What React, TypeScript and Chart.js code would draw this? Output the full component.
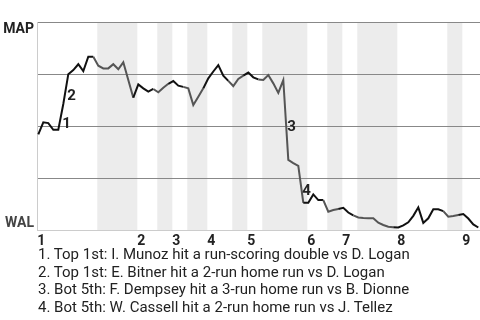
import React, { useEffect, useRef } from "react";
import { Chart, registerables } from "chart.js";

Chart.register(...registerables);

// Win probability for MAP (1 = MAP wins, 0 = WAL wins), one value per play
const winProb: number[] = [
  0.46, 0.518, 0.514, 0.482, 0.482, 0.606, 0.749, 0.769, 0.797, 0.764,
  0.833, 0.833, 0.79, 0.777, 0.777, 0.797, 0.773, 0.806, 0.721, 0.636,
  0.7, 0.681, 0.665, 0.678, 0.662, 0.684, 0.703, 0.716, 0.694, 0.688,
  0.681, 0.601, 0.641, 0.681, 0.729, 0.762, 0.793, 0.742, 0.717, 0.692,
  0.726, 0.742, 0.757, 0.734, 0.724, 0.721, 0.745, 0.705, 0.659, 0.721,
  0.337, 0.322, 0.308, 0.131, 0.131, 0.171, 0.144, 0.144, 0.088, 0.096,
  0.101, 0.107, 0.084, 0.07, 0.06, 0.058, 0.057, 0.056, 0.035, 0.024,
  0.016, 0.013, 0.012, 0.022, 0.037, 0.068, 0.109, 0.034, 0.056, 0.1,
  0.1, 0.091, 0.064, 0.067, 0.072, 0.077, 0.055, 0.027, 0.012,
];

// Play index where each inning (top half) starts
const inningStarts: number[] = [0, 20, 27, 34, 42, 54, 61, 72, 85];
const inningLabels: string[] = ["1", "2", "3", "4", "5", "6", "7", "8", "9"];

// Bottom halves of innings (shaded): start / end play index
const bottomStarts: number[] = [12, 24, 30, 39, 45, 58, 64, 82];
const bottomEnds: number[] = [20, 27, 34, 42, 54, 61, 72, 85];

// Key events: play index after the event, and description
const eventPlays: number[] = [5, 6, 50, 53];
const eventTexts: string[] = [
  "1. Top 1st: I. Munoz hit a run-scoring double vs D. Logan",
  "2. Top 1st: E. Bitner hit a 2-run home run vs D. Logan",
  "3. Bot 5th: F. Dempsey hit a 3-run home run vs B. Dionne",
  "4. Bot 5th: W. Cassell hit a 2-run home run vs J. Tellez",
];

const topTeam = "MAP";
const bottomTeam = "WAL";

const FONT = "Roboto, 'Noto Sans', sans-serif";
const W = 480;
const H = 246;

const inBottom = (i: number) =>
  bottomStarts.some((s, j) => i >= s && i < bottomEnds[j]);

export default function App() {
  const ref = useRef<HTMLCanvasElement | null>(null);

  useEffect(() => {
    const canvas = ref.current;
    if (!canvas) return;

    const bandsPlugin = {
      id: "bands",
      beforeDraw(chart: any) {
        const { ctx, chartArea, scales } = chart;
        const xs = scales.x;
        ctx.save();
        ctx.fillStyle = "#ececec";
        bottomStarts.forEach((s, j) => {
          const x0 = Math.max(chartArea.left, xs.getPixelForValue(s - 0.2));
          const x1 = Math.min(chartArea.right, xs.getPixelForValue(bottomEnds[j] - 0.2));
          ctx.fillRect(x0, chartArea.top, x1 - x0, chartArea.bottom - chartArea.top);
        });
        ctx.restore();
      },
      afterDatasetsDraw(chart: any) {
        const { ctx, scales } = chart;
        const xs = scales.x;
        const ys = scales.y;
        ctx.save();
        ctx.font = `bold 15px ${FONT}`;
        ctx.fillStyle = "#222";
        ctx.textAlign = "left";
        ctx.textBaseline = "middle";
        eventPlays.forEach((p, i) => {
          const x = xs.getPixelForValue(p);
          const midY =
            (ys.getPixelForValue(winProb[p - 1]) + ys.getPixelForValue(winProb[p])) / 2;
          ctx.fillText(String(i + 1), x - 1, midY + 7);
        });
        ctx.font = `bold 14px ${FONT}`;
        ctx.textAlign = "right";
        ctx.fillStyle = "#222";
        ctx.fillText(topTeam, 34, ys.getPixelForValue(1) + 7);
        ctx.fillStyle = "#444";
        ctx.fillText(bottomTeam, 34, ys.getPixelForValue(0) - 7);
        ctx.restore();
      },
    };

    const chart = new Chart(canvas, {
      type: "line",
      data: {
        datasets: [
          {
            data: winProb.map((v, i) => ({ x: i, y: v })),
            borderWidth: 2,
            borderColor: "#111",
            pointRadius: 0,
            tension: 0,
            segment: {
              borderColor: (c: any) => (inBottom(c.p1DataIndex) ? "#555" : "#111"),
            },
          },
        ],
      },
      options: {
        responsive: false,
        animation: false,
        layout: { padding: { top: 22, right: 0, left: 0, bottom: 0 } },
        plugins: { legend: { display: false }, tooltip: { enabled: false } },
        scales: {
          x: {
            type: "linear",
            min: -0.26,
            max: 88.34,
            grid: { display: false, drawTicks: false },
            border: { display: true, color: "#ccc", width: 1 },
            afterBuildTicks: (scale: any) => {
              scale.ticks = inningStarts.map((v) => ({ value: v - 0.2 }));
            },
            afterFit: (scale: any) => {
              scale.height = H - 230;
            },
            ticks: {
              autoSkip: false,
              maxRotation: 0,
              align: "start",
              padding: 3,
              color: "#222",
              font: { family: FONT, size: 14, weight: "bold" },
              callback: (_v: any, i: number) => inningLabels[i],
            },
          },
          y: {
            min: 0,
            max: 1,
            afterFit: (scale: any) => {
              scale.width = 37;
            },
            ticks: { display: false, stepSize: 0.25 },
            grid: {
              drawTicks: false,
              color: (c: any) => (c.tick && c.tick.value === 0 ? "rgba(0,0,0,0)" : "#888"),
            },
            border: { display: true, color: "#ccc", width: 1 },
          },
        },
      },
      plugins: [bandsPlugin],
    });

    return () => chart.destroy();
  }, []);

  return (
    <div style={{ position: "absolute", left: 0, top: 0, width: W, height: 320, background: "#fff" }}>
      <canvas ref={ref} width={W} height={H} style={{ display: "block" }} />
      <div
        style={{
          position: "absolute",
          left: 38,
          top: 246,
          fontFamily: FONT,
          fontSize: 15,
          lineHeight: "17.6px",
          color: "#222",
          whiteSpace: "nowrap",
        }}
      >
        {eventTexts.map((t) => (
          <div key={t}>{t}</div>
        ))}
      </div>
    </div>
  );
}
